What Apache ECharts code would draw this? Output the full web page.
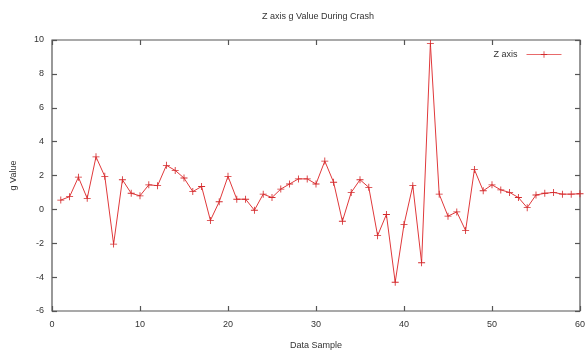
<!DOCTYPE html>
<html><head><meta charset="utf-8">
<script src="https://cdn.jsdelivr.net/npm/echarts@6/dist/echarts.min.js"></script>
<style>html,body{margin:0;padding:0;background:#fff}#c{width:588px;height:355px}</style>
</head><body><div id="c"></div>
<script>
const samples = [1,2,3,4,5,6,7,8,9,10,11,12,13,14,15,16,17,18,19,20,21,22,23,24,25,26,27,28,29,30,31,32,33,34,35,36,37,38,39,40,41,42,43,44,45,46,47,48,49,50,51,52,53,54,55,56,57,58,59,60];
const zValues = [0.55,0.75,1.9,0.65,3.1,1.95,-2.05,1.75,0.95,0.8,1.45,1.4,2.6,2.3,1.85,1.05,1.35,-0.65,0.45,1.95,0.6,0.6,-0.05,0.9,0.7,1.2,1.5,1.8,1.8,1.5,2.85,1.6,-0.7,1.0,1.75,1.3,-1.55,-0.3,-4.3,-0.9,1.4,-3.15,9.8,0.9,-0.4,-0.15,-1.25,2.35,1.1,1.45,1.15,1.0,0.7,0.1,0.85,0.95,1.0,0.9,0.9,0.92];
const xTicks = [0,10,20,30,40,50,60];
const yTicks = [-6,-4,-2,0,2,4,6,8,10];

const font = 'Liberation Sans, DejaVu Sans, sans-serif';
const axisCol = '#555';
const chart = echarts.init(document.getElementById('c'));
const plus = 'path://M4.4,0H5.6V4.4H10V5.6H5.6V10H4.4V5.6H0V4.4H4.4Z';
const tick = {inside: true, length: 5, lineStyle: {color: axisCol, width: 1.2}};
chart.setOption({
  animation: false,
  title: {text: 'Z axis g Value During Crash', left: 313, top: 7, textAlign: 'center',
    textStyle: {fontFamily: font, fontSize: 9, fontWeight: 'normal', color: '#333'}},
  legend: {right: 21, top: 45, align: 'right', itemWidth: 35, itemHeight: 8, itemGap: 8,
    lineStyle: {width: 1, color: '#e86a6b'},
    textStyle: {fontFamily: font, fontSize: 9, color: '#333', padding: [0, 4, 0, 0]},
    data: ['Z axis']},
  grid: {left: 52, right: 7, top: 40, bottom: 44, show: true, borderColor: axisCol, borderWidth: 1.2},
  xAxis: [{
    type: 'value', min: xTicks[0], max: xTicks[xTicks.length-1], interval: 10,
    name: 'Data Sample', nameLocation: 'middle', nameGap: 30,
    nameTextStyle: {fontFamily: font, fontSize: 9, color: '#333'},
    axisLine: {show: false, onZero: false}, axisTick: tick,
    splitLine: {show: false},
    axisLabel: {fontFamily: font, fontSize: 9, color: '#333', margin: 9}
  }, {
    type: 'value', position: 'top', min: 0, max: 60, interval: 10,
    axisLine: {show: false, onZero: false}, axisTick: tick,
    axisLabel: {show: false}, splitLine: {show: false}
  }],
  yAxis: [{
    type: 'value', min: yTicks[0], max: yTicks[yTicks.length-1], interval: 2,
    name: 'g Value', nameLocation: 'middle', nameGap: 34, nameRotate: 90,
    nameTextStyle: {fontFamily: font, fontSize: 9, color: '#333'},
    axisLine: {show: false, onZero: false}, axisTick: tick,
    splitLine: {show: false},
    axisLabel: {fontFamily: font, fontSize: 9, color: '#333', margin: 8}
  }, {
    type: 'value', position: 'right', min: -6, max: 10, interval: 2,
    axisLine: {show: false, onZero: false}, axisTick: tick,
    axisLabel: {show: false}, splitLine: {show: false}
  }],
  series: [{
    name: 'Z axis', type: 'line',
    data: samples.map((s, i) => [s, zValues[i]]),
    symbol: plus, symbolSize: 7, showSymbol: true,
    lineStyle: {color: '#e0393b', width: 1},
    itemStyle: {color: '#d42a2c'}
  }]
});
</script></body></html>
